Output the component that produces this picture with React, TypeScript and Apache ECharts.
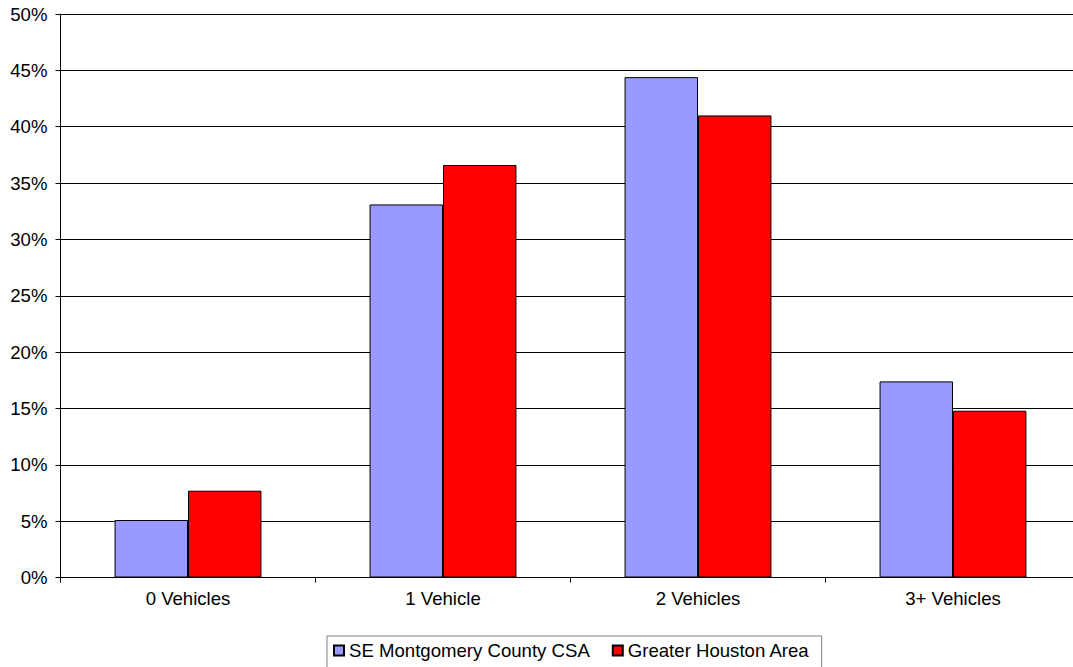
import React, { useEffect, useRef } from "react";
import * as echarts from "echarts";

const categories = ["0 Vehicles", "1 Vehicle", "2 Vehicles", "3+ Vehicles"];
const seriesNames = ["SE Montgomery County CSA", "Greater Houston Area"];
const montgomery = [5.1, 33.1, 44.4, 17.4];
const houston = [7.7, 36.6, 41.0, 14.8];
const yTicks = { min: 0, max: 50, interval: 5 };

const FONT = 'Arial, "Liberation Sans", sans-serif';

export default function App() {
  const ref = useRef<HTMLDivElement>(null);
  useEffect(() => {
    if (!ref.current) return;
    const chart = echarts.init(ref.current, undefined, { renderer: "svg" });
    chart.setOption({
      animation: false,
      backgroundColor: "#ffffff",
      textStyle: { fontFamily: FONT },
      grid: { left: 60.5, right: 59.5, top: 14, bottom: 89.5, containLabel: false },
      legend: {
        data: seriesNames,
        left: 327,
        top: 636,
        orient: "horizontal",
        icon: "rect",
        itemWidth: 10,
        itemHeight: 10,
        itemGap: 22,
        padding: [5, 12, 8, 6],
        borderColor: "#808080",
        borderWidth: 1,
        backgroundColor: "#ffffff",
        textStyle: { fontFamily: FONT, fontSize: 18.6, color: "#000" },
      },
      xAxis: {
        type: "category",
        data: categories,
        axisLine: { show: true, lineStyle: { color: "#000", width: 1 } },
        axisTick: { show: true, alignWithLabel: false, length: 5, lineStyle: { color: "#000" } },
        axisLabel: { margin: 11, fontSize: 18.6, color: "#000", fontFamily: FONT },
        splitLine: { show: false },
      },
      yAxis: {
        type: "value",
        min: yTicks.min,
        max: yTicks.max,
        interval: yTicks.interval,
        axisLine: { show: true, lineStyle: { color: "#000", width: 1 } },
        axisTick: { show: true, length: 5, lineStyle: { color: "#000" } },
        axisLabel: { formatter: "{value}%", margin: 13, fontSize: 18.6, color: "#000", fontFamily: FONT },
        splitLine: { show: true, lineStyle: { color: "#000", width: 1 } },
      },
      series: [
        {
          name: seriesNames[0],
          type: "bar",
          data: montgomery,
          barGap: "0%",
          barCategoryGap: "42.4%",
          itemStyle: { color: "#9999FF", borderColor: "#000", borderWidth: 1 },
        },
        {
          name: seriesNames[1],
          type: "bar",
          data: houston,
          barGap: "0%",
          barCategoryGap: "42.4%",
          itemStyle: { color: "#FF0000", borderColor: "#000", borderWidth: 1 },
        },
      ],
    });
    return () => chart.dispose();
  }, []);
  return (
    <div
      style={{
        position: "absolute",
        left: 0,
        top: 0,
        width: 1073,
        height: 667,
        overflow: "hidden",
        background: "#fff",
      }}
    >
      <div ref={ref} style={{ width: 1140, height: 667 }} />
    </div>
  );
}
